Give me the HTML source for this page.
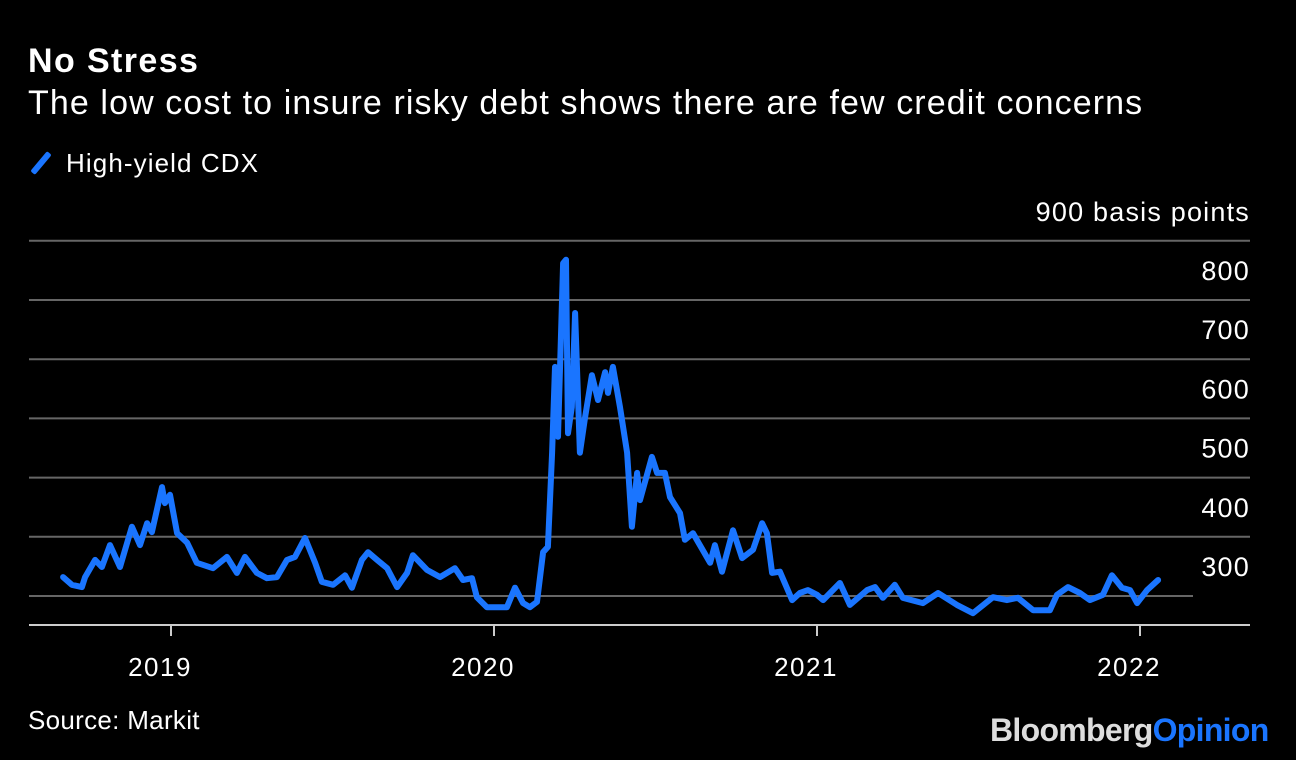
<!DOCTYPE html>
<html><head><meta charset="utf-8"><style>
html,body{margin:0;padding:0;background:#000;}
body{width:1296px;height:760px;overflow:hidden;position:relative;font-family:"Liberation Sans",Arial,sans-serif;color:#fff;}
.t{position:absolute;white-space:nowrap;}
</style></head><body>
<div class="t" style="left:28px;top:42px;font-size:34px;font-weight:bold;letter-spacing:1.4px;">No Stress</div>
<div class="t" style="left:28px;top:84px;font-size:34px;letter-spacing:1.1px;">The low cost to insure risky debt shows there are few credit concerns</div>
<div class="t" style="left:32px;top:148px;font-size:26px;letter-spacing:1.1px;"><span style="display:inline-block;width:6px;height:26px;background:#1a75ff;transform:rotate(40deg);vertical-align:-4px;margin:0 22px 0 6px;border-radius:2px;"></span>High-yield CDX</div>
<div class="t" style="left:28px;top:705px;font-size:26px;letter-spacing:0.3px;">Source: Markit</div>
<div class="t" style="left:990px;top:712px;font-size:32px;font-weight:bold;letter-spacing:-0.7px;"><span style="color:#ddd">Bloomberg</span><span style="color:#1a75ff">Opinion</span></div>
<svg id="chart" width="1296" height="760" style="position:absolute;left:0;top:0;" xmlns="http://www.w3.org/2000/svg"></svg>
<script>
const yTicks=[900,800,700,600,500,400,300];
const xTicks=[2019,2020,2021,2022];
const dates=[2018.666,2018.693,2018.724,2018.734,2018.765,2018.786,2018.811,2018.842,2018.879,2018.904,2018.926,2018.941,2018.972,2018.981,2018.997,2019.019,2019.050,2019.080,2019.130,2019.173,2019.204,2019.229,2019.266,2019.297,2019.328,2019.359,2019.384,2019.415,2019.446,2019.467,2019.502,2019.539,2019.560,2019.591,2019.610,2019.638,2019.669,2019.700,2019.731,2019.749,2019.793,2019.833,2019.879,2019.904,2019.932,2019.947,2019.978,2020.003,2020.040,2020.065,2020.090,2020.111,2020.133,2020.152,2020.167,2020.180,2020.189,2020.198,2020.214,2020.223,2020.229,2020.241,2020.251,2020.266,2020.282,2020.303,2020.322,2020.344,2020.353,2020.368,2020.390,2020.412,2020.427,2020.443,2020.452,2020.489,2020.505,2020.529,2020.545,2020.576,2020.591,2020.616,2020.669,2020.684,2020.706,2020.740,2020.768,2020.802,2020.830,2020.845,2020.861,2020.885,2020.923,2020.947,2020.972,2021.000,2021.019,2021.071,2021.102,2021.155,2021.180,2021.204,2021.241,2021.266,2021.328,2021.375,2021.433,2021.483,2021.545,2021.588,2021.622,2021.669,2021.721,2021.743,2021.777,2021.814,2021.845,2021.885,2021.913,2021.944,2021.969,2021.991,2022.022,2022.056];
const values=[332,319,315,332,361,349,386,349,417,386,423,408,484,457,471,406,390,356,347,366,339,366,339,330,332,361,366,398,356,324,319,335,314,361,374,361,347,315,339,369,344,332,347,327,330,298,281,281,281,314,288,281,290,374,383,542,687,569,862,868,575,619,778,542,602,673,631,678,643,687,619,542,417,508,462,535,508,508,467,440,395,406,356,386,341,411,364,378,423,406,339,341,293,305,310,302,293,322,285,310,315,297,319,297,288,305,285,271,298,293,297,276,276,302,315,305,293,302,335,314,310,288,310,327];
const svg=document.getElementById('chart');
const NS='http://www.w3.org/2000/svg';
const xS=d=>171+(d-2019)*323;
const yS=v=>596-(v-300)*0.592;
function mk(tag,attrs){const e=document.createElementNS(NS,tag);for(const k in attrs)e.setAttribute(k,attrs[k]);svg.appendChild(e);return e;}
yTicks.forEach(v=>{
  const y=yS(v);
  const l=mk('line',{x1:29,x2:v===300?1193:1250,y1:y,y2:y,stroke:'#666','stroke-width':2});
  
  
  const t=mk('text',{x:1250,y:y-20,'text-anchor':'end','font-size':27,'letter-spacing':1.2,fill:'#fff','font-family':'Liberation Sans, Arial, sans-serif'});
  t.textContent=v===900?'900 basis points':String(v);
  
  
});
const ax=mk('line',{x1:29,x2:1250,y1:625,y2:625,stroke:'#ccc','stroke-width':2});


xTicks.forEach(d=>{
  const x=xS(d);
  const tk=mk('line',{x1:x,x2:x,y1:625,y2:636,stroke:'#ccc','stroke-width':2});
  
  
  const t=mk('text',{x:x-11,y:676,'text-anchor':'middle','font-size':26,'letter-spacing':1.5,fill:'#fff','font-family':'Liberation Sans, Arial, sans-serif'});
  t.textContent=String(d);
  
  
});
const pts=dates.map((d,i)=>xS(d).toFixed(1)+','+yS(values[i]).toFixed(1)).join(' ');
const pl=mk('polyline',{points:pts,fill:'none',stroke:'#1a75ff','stroke-width':6,'stroke-linejoin':'round','stroke-linecap':'round'});


</script>
</body></html>
